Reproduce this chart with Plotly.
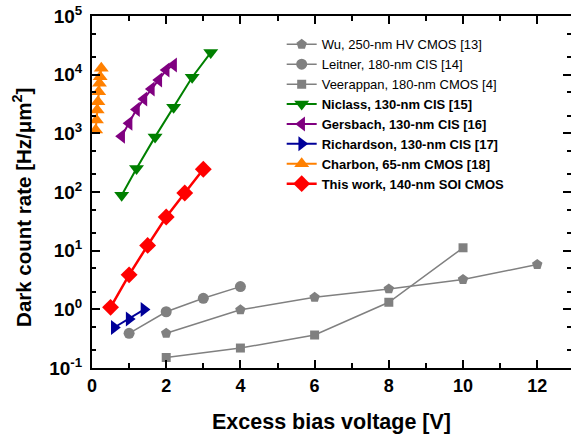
import plotly.graph_objects as go

# ---- data ----
wu_x = [2, 4, 6, 8, 10, 12]
wu_y = [0.39, 0.98, 1.6, 2.23, 3.22, 5.8]

leitner_x = [1, 2, 3, 4]
leitner_y = [0.39, 0.91, 1.54, 2.44]

veerappan_x = [2, 4, 6, 8, 10]
veerappan_y = [0.151, 0.219, 0.365, 1.32, 11.2]

niclass_x = [0.8, 1.2, 1.7, 2.2, 2.7, 3.2]
niclass_y = [88, 251, 870, 2770, 9040, 23800]

gersbach_x = [0.8, 1.0, 1.2, 1.4, 1.6, 1.8, 2.0, 2.2]
gersbach_y = [895, 1480, 2560, 3850, 5700, 8130, 12000, 14600]

richardson_x = [0.6, 1.0, 1.4]
richardson_y = [0.49, 0.685, 0.99]

charbon_x = [0.1, 0.12, 0.14, 0.16, 0.18, 0.2, 0.22, 0.25]
charbon_y = [1135, 1680, 2490, 3450, 5120, 7130, 9250, 12850]

thiswork_x = [0.5, 1.0, 1.5, 2.0, 2.5, 3.0]
thiswork_y = [1.08, 3.87, 12.3, 37.4, 96, 244]

x_ticks = [0, 2, 4, 6, 8, 10, 12]
y_tickvals = [0.1, 1, 10, 100, 1000, 10000, 100000]
y_ticktext = ["<b>10<sup>-1</sup></b>", "<b>10<sup>0</sup></b>", "<b>10<sup>1</sup></b>",
              "<b>10<sup>2</sup></b>", "<b>10<sup>3</sup></b>", "<b>10<sup>4</sup></b>",
              "<b>10<sup>5</sup></b>"]

series = [
    ("Wu, 250-nm HV CMOS [13]", wu_x, wu_y, "#808080", "pentagon", 11, 1.5),
    ("Leitner, 180-nm CIS [14]", leitner_x, leitner_y, "#808080", "circle", 11, 1.5),
    ("Veerappan, 180-nm CMOS [4]", veerappan_x, veerappan_y, "#808080", "square", 9, 1.5),
    ("<b>Niclass, 130-nm CIS [15]</b>", niclass_x, niclass_y, "#008000", "triangle-down", 13, 2),
    ("<b>Gersbach, 130-nm CIS [16]</b>", gersbach_x, gersbach_y, "#800080", "triangle-left", 13, 2),
    ("<b>Richardson, 130-nm CIS [17]</b>", richardson_x, richardson_y, "#000099", "triangle-right", 13, 2),
    ("<b>Charbon, 65-nm CMOS [18]</b>", charbon_x, charbon_y, "#FF8000", "triangle-up", 13, 2),
    ("<b>This work, 140-nm SOI CMOS</b>", thiswork_x, thiswork_y, "#FF0000", "diamond", 13, 2.5),
]

fig = go.Figure()
for name, xs, ys, color, sym, size, lw in series:
    fig.add_trace(go.Scatter(
        x=xs, y=ys, name=name, mode="lines+markers",
        line=dict(color=color, width=lw),
        marker=dict(symbol=sym, size=size, color=color, line=dict(width=0)),
    ))

font_family = "Liberation Sans, Arial, sans-serif"

fig.update_layout(
    width=571, height=435,
    margin=dict(l=92, r=0, t=16, b=67),
    paper_bgcolor="white", plot_bgcolor="white",
    font=dict(family=font_family, color="black", size=14),
    showlegend=True,
    legend=dict(x=0.396, y=0.962, xanchor="left", yanchor="top",
                bgcolor="rgba(0,0,0,0)", borderwidth=0,
                font=dict(size=13, family=font_family, color="black"),
                tracegroupgap=0, itemwidth=30),
)

fig.update_xaxes(
    range=[0, 12.91], tickvals=x_ticks,
    ticktext=[f"<b>{v}</b>" for v in x_ticks],
    ticks="inside", ticklen=8, tickwidth=1.5, tickcolor="black",
    showline=True, linecolor="black", linewidth=2, mirror="allticks",
    showgrid=False, zeroline=False, automargin=False,
    tickfont=dict(size=18, family=font_family),
    minor=dict(ticks="inside", ticklen=5, dtick=1, tickcolor="black", tickwidth=1.5, showgrid=False),
    title=dict(text="<b>Excess bias voltage [V]</b>", font=dict(size=21.5, family=font_family), standoff=19),
)

fig.update_yaxes(
    type="log", range=[-1, 5],
    tickvals=y_tickvals, ticktext=y_ticktext,
    ticks="inside", ticklen=8, tickwidth=1.5, tickcolor="black",
    showline=True, linecolor="black", linewidth=2, mirror="allticks",
    showgrid=False, zeroline=False, automargin=False,
    ticklabelstandoff=4,
    tickfont=dict(size=19, family=font_family),
    minor=dict(ticks="inside", ticklen=4, tickcolor="black", tickwidth=1.5, showgrid=False),
)

# y-axis title placed as a rotated annotation (sits slightly below the plot centre in the reference)
fig.add_annotation(
    text="<b>Dark count rate [Hz/\u03bcm<sup>2</sup>]</b>",
    xref="paper", yref="paper", x=-0.146, y=0.455,
    xanchor="center", yanchor="middle", textangle=-90, showarrow=False,
    font=dict(size=20.5, family=font_family, color="black"),
)

# remove the browser's default body margin and any scrollbars so the figure fills the window
fig.write_html(
    "out.html",
    config={"displayModeBar": False},
    post_script=(
        "document.body.style.margin='0';"
        "document.body.style.overflow='hidden';"
        "document.documentElement.style.overflow='hidden';"
    ),
)
